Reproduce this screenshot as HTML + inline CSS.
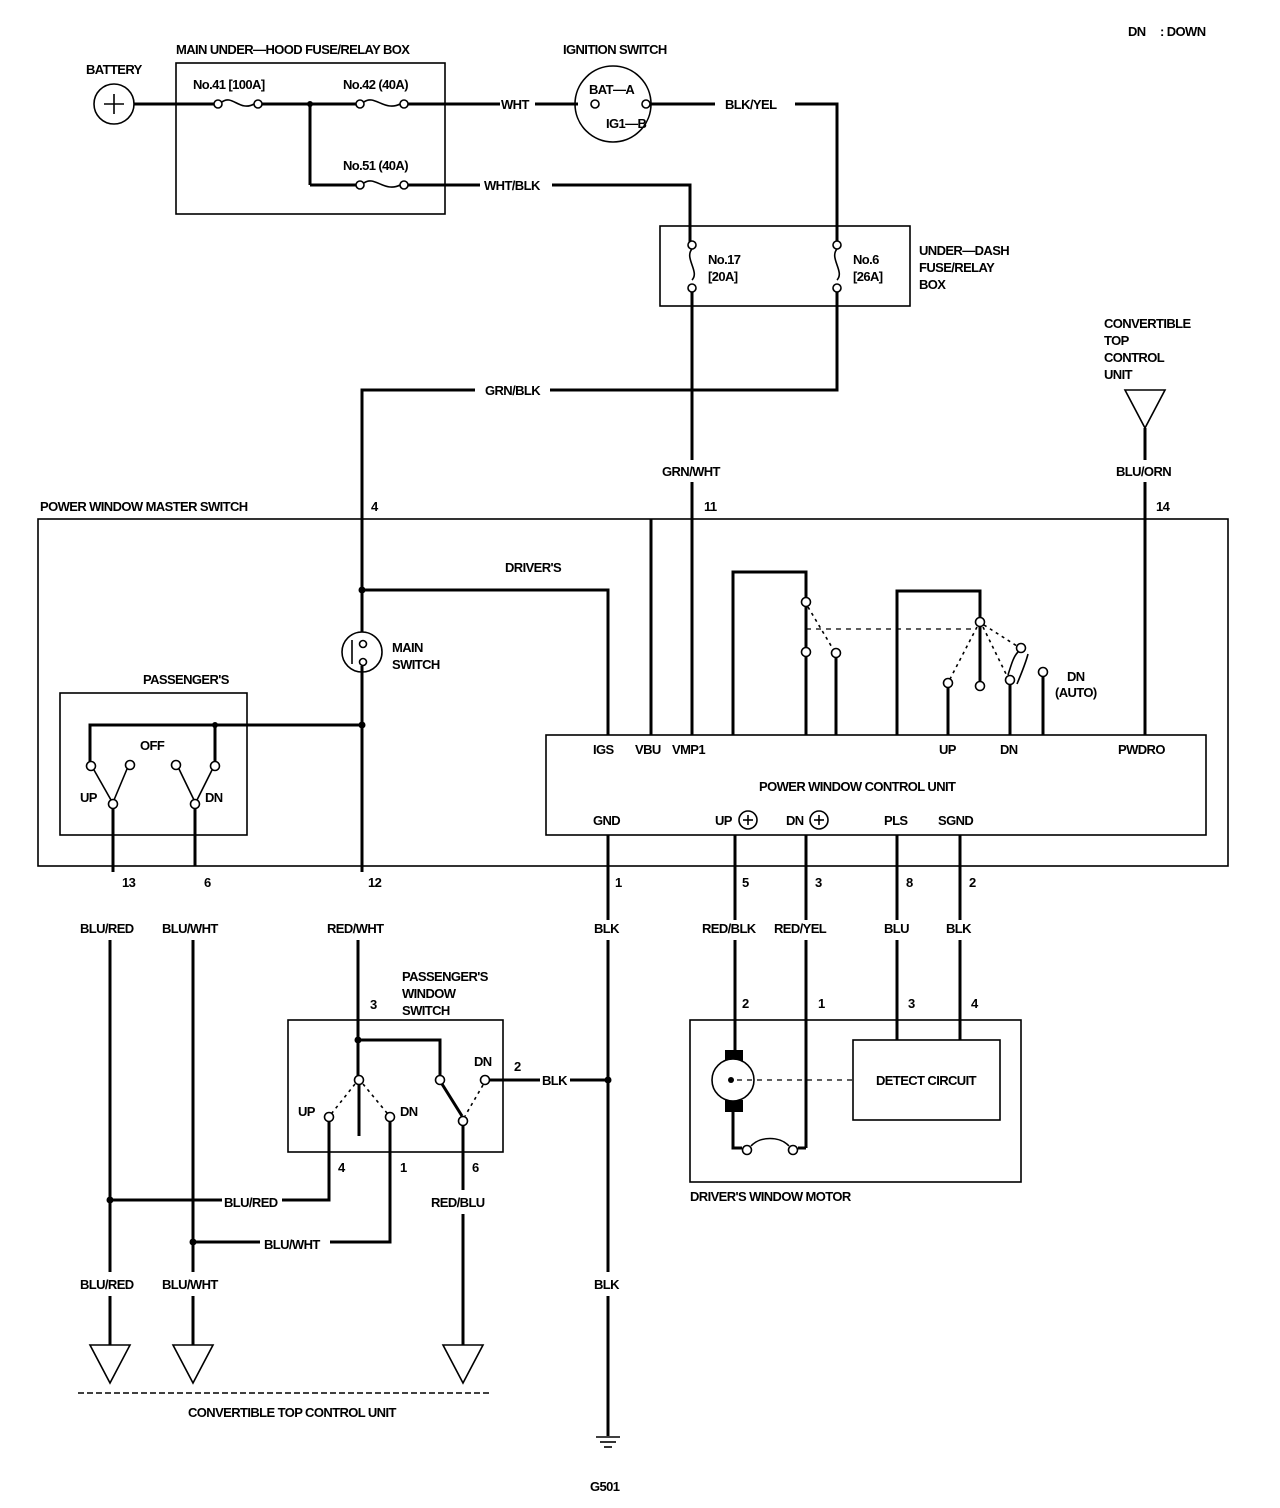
<!DOCTYPE html>
<html><head><meta charset="utf-8"><style>
html,body{margin:0;padding:0;background:#fff;}
svg{display:block;}
text{font-family:"Liberation Sans",sans-serif;font-weight:bold;font-size:13px;fill:#000;letter-spacing:-0.6px;}
.w{stroke:#000;stroke-width:3;fill:none;}
.t{stroke:#000;stroke-width:1.6;fill:none;}
.c{stroke:#000;stroke-width:1.6;fill:#fff;}
.d{stroke:#000;stroke-width:1.2;fill:none;stroke-dasharray:5 5;}
</style></head><body>
<svg width="1280" height="1508" viewBox="0 0 1280 1508" xmlns="http://www.w3.org/2000/svg">
<!-- legend -->
<text x="1128" y="36">DN</text><text x="1160" y="36">: DOWN</text>

<!-- battery -->
<text x="86" y="74">BATTERY</text>
<circle cx="114" cy="104" r="20" class="t"/>
<line x1="104" y1="104" x2="124" y2="104" class="t"/><line x1="114" y1="94" x2="114" y2="114" class="t"/>
<line x1="134" y1="104" x2="215" y2="104" class="w"/>
<!-- main underhood box -->
<text x="176" y="54">MAIN UNDER—HOOD FUSE/RELAY BOX</text>
<rect x="176" y="63" width="269" height="151" class="t"/>
<text x="193" y="89">No.41 [100A]</text>
<circle cx="218" cy="104" r="4" class="c"/><path d="M222 102 C232 94,240 112,254 104" class="t"/><circle cx="258" cy="104" r="4" class="c"/>
<line x1="262" y1="104" x2="356" y2="104" class="w"/>
<circle cx="310" cy="104" r="3"/>
<text x="343" y="89">No.42 (40A)</text>
<circle cx="360" cy="104" r="4" class="c"/><path d="M364 102 C374 94,385 112,400 104" class="t"/><circle cx="404" cy="104" r="4" class="c"/>
<line x1="408" y1="104" x2="500" y2="104" class="w"/>
<text x="501" y="109">WHT</text>
<line x1="535" y1="104" x2="578" y2="104" class="w"/>
<line x1="310" y1="104" x2="310" y2="185" class="w"/>
<line x1="310" y1="185" x2="356" y2="185" class="w"/>
<text x="343" y="170">No.51 (40A)</text>
<circle cx="360" cy="185" r="4" class="c"/><path d="M364 183 C374 175,385 193,400 185" class="t"/><circle cx="404" cy="185" r="4" class="c"/>
<line x1="408" y1="185" x2="480" y2="185" class="w"/>
<text x="484" y="190">WHT/BLK</text>
<polyline points="552,185 690,185 690,243" class="w"/>

<!-- ignition switch -->
<text x="563" y="54">IGNITION SWITCH</text>
<circle cx="613" cy="104" r="38" class="t"/>
<circle cx="595" cy="104" r="4" class="c"/><circle cx="646" cy="104" r="4" class="c"/>
<text x="589" y="94">BAT—A</text><text x="606" y="128">IG1—B</text>
<line x1="650" y1="104" x2="715" y2="104" class="w"/>
<text x="725" y="109">BLK/YEL</text>
<polyline points="795,104 837,104 837,243" class="w"/>

<!-- under-dash box -->
<rect x="660" y="226" width="250" height="80" class="t"/>
<circle cx="692" cy="245" r="4" class="c"/><path d="M692 249 C684 258,700 272,692 280" class="t"/><circle cx="692" cy="288" r="4" class="c"/>
<circle cx="837" cy="245" r="4" class="c"/><path d="M837 249 C829 258,845 272,837 280" class="t"/><circle cx="837" cy="288" r="4" class="c"/>
<text x="708" y="264">No.17</text><text x="708" y="281">[20A]</text>
<text x="853" y="264">No.6</text><text x="853" y="281">[26A]</text>
<text x="919" y="255">UNDER—DASH</text><text x="919" y="272">FUSE/RELAY</text><text x="919" y="289">BOX</text>
<line x1="692" y1="292" x2="692" y2="460" class="w"/>
<line x1="692" y1="482" x2="692" y2="735" class="w"/>
<text x="662" y="476">GRN/WHT</text>
<polyline points="837,292 837,390 550,390" class="w"/>
<text x="485" y="395">GRN/BLK</text>
<polyline points="475,390 362,390 362,632" class="w"/>

<!-- convertible top control unit -->
<text x="1104" y="328">CONVERTIBLE</text><text x="1104" y="345">TOP</text><text x="1104" y="362">CONTROL</text><text x="1104" y="379">UNIT</text>
<polygon points="1125,390 1165,390 1145,428" class="t"/>
<line x1="1145" y1="428" x2="1145" y2="460" class="w"/>
<text x="1116" y="476">BLU/ORN</text>
<line x1="1145" y1="482" x2="1145" y2="735" class="w"/>

<!-- master switch box -->
<text x="40" y="511">POWER WINDOW MASTER SWITCH</text>
<text x="371" y="511">4</text><text x="704" y="511">11</text><text x="1156" y="511">14</text>
<rect x="38" y="519" width="1190" height="347" class="t"/>

<circle cx="362" cy="590" r="3.5"/>
<polyline points="362,590 608,590 608,735" class="w"/>
<text x="505" y="572">DRIVER'S</text>
<line x1="651" y1="519" x2="651" y2="735" class="w"/>
<!-- main switch -->
<circle cx="362" cy="652" r="20" class="t"/>
<line x1="352" y1="640" x2="352" y2="664" class="t"/>
<circle cx="363" cy="644" r="3.5" class="c"/><circle cx="363" cy="662" r="3.5" class="c"/>
<line x1="362" y1="666" x2="362" y2="866" class="w"/>
<text x="392" y="652">MAIN</text><text x="392" y="669">SWITCH</text>
<!-- passenger's switch in master -->
<text x="143" y="684">PASSENGER'S</text>
<rect x="60" y="693" width="187" height="142" class="t"/>
<polyline points="90,762 90,725 362,725" class="w"/>
<circle cx="362" cy="725" r="3.5"/><circle cx="215" cy="725" r="3"/>
<line x1="215" y1="725" x2="215" y2="762" class="w"/>
<circle cx="91" cy="766" r="4.5" class="c"/><circle cx="130" cy="765" r="4.5" class="c"/>
<circle cx="113" cy="804" r="4.5" class="c"/>
<line x1="94" y1="770" x2="111" y2="800" class="t" stroke-width="1"/>
<line x1="127" y1="769" x2="114" y2="800" class="t" stroke-width="2.4"/>
<text x="140" y="750">OFF</text>
<text x="80" y="802">UP</text>
<circle cx="176" cy="765" r="4.5" class="c"/><circle cx="215" cy="766" r="4.5" class="c"/>
<circle cx="195" cy="804" r="4.5" class="c"/>
<line x1="179" y1="769" x2="194" y2="800" class="t" stroke-width="2.4"/>
<line x1="212" y1="770" x2="197" y2="800" class="t" stroke-width="1"/>
<text x="205" y="802">DN</text>
<line x1="113" y1="809" x2="113" y2="866" class="w"/>
<line x1="195" y1="809" x2="195" y2="866" class="w"/>

<!-- relays -->
<polyline points="733,735 733,572 806,572 806,597" class="w"/>
<circle cx="806" cy="602" r="4.5" class="c"/>
<line x1="806" y1="607" x2="806" y2="648" class="w" stroke-width="2.4"/>
<circle cx="806" cy="652" r="4.5" class="c"/>
<line x1="806" y1="657" x2="806" y2="735" class="w"/>
<circle cx="836" cy="653" r="4.5" class="c"/>
<line x1="836" y1="658" x2="836" y2="735" class="w"/>
<line x1="808" y1="607" x2="833" y2="649" class="t" stroke-width="1" stroke-dasharray="3 4"/>
<line x1="806" y1="629" x2="976" y2="629" class="d"/>
<polyline points="897,735 897,591 980,591 980,617" class="w"/>
<circle cx="980" cy="622" r="4.5" class="c"/>
<line x1="980" y1="627" x2="980" y2="682" class="w" stroke-width="2.4"/>
<circle cx="980" cy="686" r="4.5" class="c"/>
<circle cx="948" cy="683" r="4.5" class="c"/>
<line x1="948" y1="688" x2="948" y2="735" class="w"/>
<line x1="977" y1="627" x2="950" y2="679" class="t" stroke-width="1" stroke-dasharray="3 4"/>
<circle cx="1010" cy="680" r="4.5" class="c"/>
<circle cx="1021" cy="648" r="4.5" class="c"/>
<path d="M1008 675 C1012 662,1014 656,1018 652 M1017 684 C1022 672,1026 662,1028 654" class="t" stroke-width="1.2"/>
<line x1="1010" y1="685" x2="1010" y2="735" class="w"/>
<circle cx="1043" cy="672" r="4.5" class="c"/>
<line x1="1043" y1="677" x2="1043" y2="735" class="w"/>
<line x1="983" y1="627" x2="1007" y2="676" class="t" stroke-width="1" stroke-dasharray="3 4"/>
<line x1="984" y1="625" x2="1017" y2="646" class="t" stroke-width="1" stroke-dasharray="3 4"/>
<text x="1067" y="681">DN</text><text x="1055" y="697">(AUTO)</text>

<!-- control unit -->
<rect x="546" y="735" width="660" height="100" class="t"/>
<text x="593" y="754">IGS</text><text x="635" y="754">VBU</text><text x="672" y="754">VMP1</text>
<text x="939" y="754">UP</text><text x="1000" y="754">DN</text><text x="1118" y="754">PWDRO</text>
<text x="759" y="791">POWER WINDOW CONTROL UNIT</text>
<text x="593" y="825">GND</text>
<text x="715" y="825">UP</text><circle cx="748" cy="820" r="9" class="t"/><line x1="743" y1="820" x2="753" y2="820" class="t"/><line x1="748" y1="815" x2="748" y2="825" class="t"/>
<text x="786" y="825">DN</text><circle cx="819" cy="820" r="9" class="t"/><line x1="814" y1="820" x2="824" y2="820" class="t"/><line x1="819" y1="815" x2="819" y2="825" class="t"/>
<text x="884" y="825">PLS</text><text x="938" y="825">SGND</text>

<!-- bottom wires from master -->
<line x1="608" y1="835" x2="608" y2="920" class="w"/>
<line x1="735" y1="835" x2="735" y2="920" class="w"/>
<line x1="806" y1="835" x2="806" y2="920" class="w"/>
<line x1="897" y1="835" x2="897" y2="920" class="w"/>
<line x1="960" y1="835" x2="960" y2="920" class="w"/>
<text x="122" y="887">13</text><text x="204" y="887">6</text><text x="368" y="887">12</text>
<text x="615" y="887">1</text><text x="742" y="887">5</text><text x="815" y="887">3</text><text x="906" y="887">8</text><text x="969" y="887">2</text>
<text x="80" y="933">BLU/RED</text><text x="162" y="933">BLU/WHT</text><text x="327" y="933">RED/WHT</text>
<text x="594" y="933">BLK</text><text x="702" y="933">RED/BLK</text><text x="774" y="933">RED/YEL</text>
<text x="884" y="933">BLU</text><text x="946" y="933">BLK</text>

<line x1="113" y1="866" x2="113" y2="872" class="w"/>
<line x1="110" y1="940" x2="110" y2="1272" class="w"/>
<line x1="193" y1="940" x2="193" y2="1272" class="w"/>
<line x1="362" y1="866" x2="362" y2="872" class="w"/>
<line x1="358" y1="940" x2="358" y2="1076" class="w"/>
<line x1="608" y1="940" x2="608" y2="1272" class="w"/>
<line x1="735" y1="940" x2="735" y2="1052" class="w"/>
<line x1="806" y1="940" x2="806" y2="1148" class="w"/>
<line x1="897" y1="940" x2="897" y2="1040" class="w"/>
<line x1="960" y1="940" x2="960" y2="1040" class="w"/>

<!-- passenger's window switch -->
<text x="402" y="981">PASSENGER'S</text><text x="402" y="998">WINDOW</text><text x="402" y="1015">SWITCH</text>
<text x="370" y="1009">3</text>
<rect x="288" y="1020" width="215" height="132" class="t"/>
<circle cx="358" cy="1040" r="3.5"/>
<polyline points="358,1040 440,1040 440,1076" class="w"/>
<circle cx="359" cy="1080" r="4.5" class="c"/>
<line x1="359" y1="1085" x2="359" y2="1136" class="w" stroke-width="2.4"/>
<circle cx="440" cy="1080" r="4.5" class="c"/>
<circle cx="485" cy="1080" r="4.5" class="c"/>
<circle cx="329" cy="1117" r="4.5" class="c"/><circle cx="390" cy="1117" r="4.5" class="c"/><circle cx="463" cy="1121" r="4.5" class="c"/>
<line x1="355" y1="1084" x2="332" y2="1113" class="t" stroke-width="1" stroke-dasharray="3 4"/>
<line x1="363" y1="1084" x2="387" y2="1113" class="t" stroke-width="1" stroke-dasharray="3 4"/>
<line x1="442" y1="1084" x2="462" y2="1116" class="w" stroke-width="2.6"/>
<line x1="483" y1="1085" x2="465" y2="1116" class="t" stroke-width="1" stroke-dasharray="3 4"/>
<text x="298" y="1116">UP</text><text x="400" y="1116">DN</text><text x="474" y="1066">DN</text>
<line x1="490" y1="1080" x2="540" y2="1080" class="w"/>
<text x="514" y="1071">2</text>
<text x="542" y="1085">BLK</text>
<line x1="570" y1="1080" x2="608" y2="1080" class="w"/>
<circle cx="608" cy="1080" r="3.5"/>
<polyline points="329,1122 329,1200 282,1200" class="w"/>
<text x="224" y="1207">BLU/RED</text>
<line x1="222" y1="1200" x2="110" y2="1200" class="w"/>
<circle cx="110" cy="1200" r="3.5"/>
<polyline points="390,1122 390,1242 330,1242" class="w"/>
<text x="264" y="1249">BLU/WHT</text>
<line x1="260" y1="1242" x2="193" y2="1242" class="w"/>
<circle cx="193" cy="1242" r="3.5"/>
<line x1="463" y1="1126" x2="463" y2="1190" class="w"/>
<text x="431" y="1207">RED/BLU</text>
<line x1="463" y1="1214" x2="463" y2="1345" class="w"/>
<text x="338" y="1172">4</text><text x="400" y="1172">1</text><text x="472" y="1172">6</text>

<text x="80" y="1289">BLU/RED</text><text x="162" y="1289">BLU/WHT</text><text x="594" y="1289">BLK</text>
<line x1="110" y1="1296" x2="110" y2="1345" class="w"/>
<line x1="193" y1="1296" x2="193" y2="1345" class="w"/>
<line x1="608" y1="1296" x2="608" y2="1436" class="w"/>
<polygon points="90,1345 130,1345 110,1383" class="t"/>
<polygon points="173,1345 213,1345 193,1383" class="t"/>
<polygon points="443,1345 483,1345 463,1383" class="t"/>
<line x1="78" y1="1393" x2="492" y2="1393" class="t" stroke-width="1" stroke-dasharray="6 3"/>
<text x="188" y="1417">CONVERTIBLE TOP CONTROL UNIT</text>
<!-- ground -->
<line x1="596" y1="1437" x2="620" y2="1437" class="t" stroke-width="2"/>
<line x1="600" y1="1442" x2="616" y2="1442" class="t" stroke-width="1.6"/>
<line x1="604" y1="1447" x2="612" y2="1447" class="t" stroke-width="1.4"/>
<text x="590" y="1491">G501</text>

<!-- driver's window motor -->
<text x="742" y="1008">2</text><text x="818" y="1008">1</text><text x="908" y="1008">3</text><text x="971" y="1008">4</text>
<rect x="690" y="1020" width="331" height="162" class="t"/>
<rect x="725" y="1050" width="18" height="12" fill="#000"/>
<rect x="725" y="1100" width="18" height="12" fill="#000"/>
<circle cx="733" cy="1080" r="21" class="c" stroke-width="2"/>
<circle cx="731" cy="1080" r="3"/>
<line x1="737" y1="1080" x2="853" y2="1080" class="d"/>
<polyline points="733,1112 733,1148 742,1148" class="w"/>
<circle cx="747" cy="1150" r="4.5" class="c"/>
<path d="M751 1146 C760 1136,780 1136,789 1146" class="t"/>
<circle cx="793" cy="1150" r="4.5" class="c"/>
<line x1="798" y1="1148" x2="806" y2="1148" class="w"/>
<rect x="853" y="1040" width="147" height="80" class="t" stroke-width="2"/>
<text x="876" y="1085">DETECT CIRCUIT</text>
<text x="690" y="1201">DRIVER'S WINDOW MOTOR</text>
</svg>
</body></html>
